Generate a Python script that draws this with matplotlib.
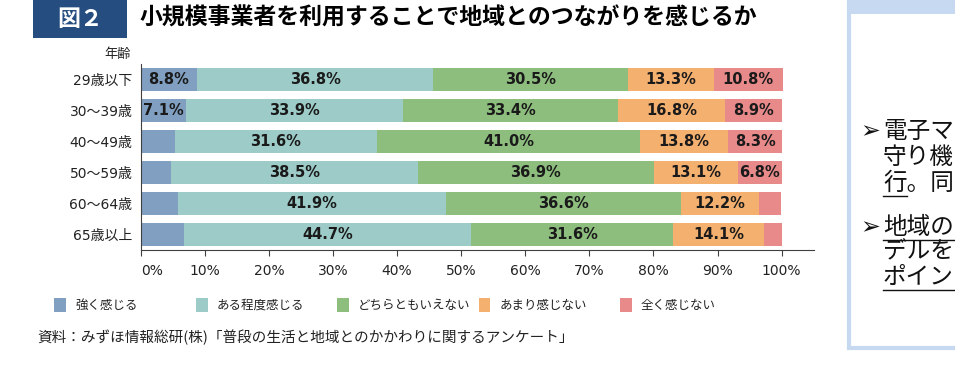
import numpy as np
import matplotlib.pyplot as plt
from matplotlib.patches import Rectangle
from matplotlib.lines import Line2D

plt.rcParams['font.family'] = ['DejaVu Sans', 'Noto Sans CJK JP']

# data
ages = ["29歳以下", "30～39歳", "40～49歳", "50～59歳", "60～64歳", "65歳以上"]
categories = ["強く感じる", "ある程度感じる", "どちらともいえない", "あまり感じない", "全く感じない"]
strong = [8.8, 7.1, 5.3, 4.7, 5.8, 6.8]
somewhat = [36.8, 33.9, 31.6, 38.5, 41.9, 44.7]
neutral = [30.5, 33.4, 41.0, 36.9, 36.6, 31.6]
not_much = [13.3, 16.8, 13.8, 13.1, 12.2, 14.1]
not_at_all = [10.8, 8.9, 8.3, 6.8, 3.4, 2.8]
# the source only prints labels on some of the small segments
strong_labeled = [True, True, False, False, False, False]
not_at_all_labeled = [True, True, True, True, False, False]
ticks = [0, 10, 20, 30, 40, 50, 60, 70, 80, 90, 100]
colors = ["#809FC1", "#9DCBC8", "#8DBE7E", "#F4B06F", "#E8898A"]

W, H = 955, 374


def px(x, y):
    return x / W, 1 - y / H


fig = plt.figure(figsize=(W / 100, H / 100), dpi=100)

# title block
fig.patches.append(Rectangle(px(33, 38), 94 / W, 38 / H, transform=fig.transFigure,
                             facecolor="#264D80", edgecolor="none"))
fig.text(*px(80, 19), "図２", color="white", fontsize=16.5, fontweight="bold",
         family=['Noto Sans CJK JP'], ha="center", va="center")
fig.text(*px(140, 18), "小規模事業者を利用することで地域とのつながりを感じるか",
         fontsize=16.5, fontweight="bold", family=['Noto Sans CJK JP'], ha="left", va="center")

# chart
ax = fig.add_axes([140.7 / W, 1 - 250 / H, 673 / W, 186 / H])
series = [strong, somewhat, neutral, not_much, not_at_all]
labeled = [strong_labeled, [True] * 6, [True] * 6, [True] * 6, not_at_all_labeled]
y = np.arange(len(ages))
left = np.zeros(len(ages))
for vals, col, show in zip(series, colors, labeled):
    vals = np.array(vals)
    ax.barh(y, vals, left=left, height=0.77, color=col, edgecolor="none")
    for yi, (l, v) in enumerate(zip(left, vals)):
        if show[yi]:
            ax.text(l + v / 2, yi, f"{v:.1f}%", ha="center", va="center",
                    fontsize=10.5, fontweight="bold", color="#1a1a1a")
    left += vals

ax.set_xlim(0, 105)
ax.set_ylim(5.5, -0.5)
ax.set_yticks(y)
ax.set_yticklabels(ages, fontsize=10, color="#222222")
ax.set_xticks(ticks)
ax.set_xticklabels([f"{t}%" for t in ticks], fontsize=10, color="#222222")
ax.get_xticklabels()[0].set_horizontalalignment("left")
ax.tick_params(axis="y", length=0, pad=6)
ax.tick_params(axis="x", length=4, direction="out", color="#404040", pad=6)
for s in ["top", "right"]:
    ax.spines[s].set_visible(False)
ax.spines["left"].set_color("#404040")
ax.spines["bottom"].set_color("#404040")
ax.text(-1.5, -0.8, "年齢", ha="right", va="center", fontsize=9.5, color="#222222")

# legend
for i, (cat, col) in enumerate(zip(categories, colors)):
    x0 = 54 + i * 141.5
    fig.patches.append(Rectangle(px(x0, 312), 12 / W, 14 / H, transform=fig.transFigure,
                                 facecolor=col, edgecolor="none"))
    fig.text(*px(x0 + 21, 305), cat, fontsize=9, ha="left", va="center", color="#222222",
             family=['Noto Sans CJK JP'])

fig.text(*px(37, 337), "資料：みずほ情報総研(株)「普段の生活と地域とのかかわりに関するアンケート」",
         fontsize=10.5, ha="left", va="center", color="#222222", family=['Noto Sans CJK JP'])

# clipped side panel
fig.patches.append(Rectangle(px(849, 348), 130 / W, 348 / H, transform=fig.transFigure,
                             facecolor="white", edgecolor="#C6D9F0", linewidth=3))
fig.patches.append(Rectangle(px(849, 14), 130 / W, 14 / H, transform=fig.transFigure,
                             facecolor="#C6D9F0", edgecolor="none"))
side_lines = [("電子マ", 131, True, False), ("守り機", 157, False, False),
              ("行。同", 183, False, True), ("地域の", 227, True, True),
              ("デルを", 252, False, False), ("ポイン", 277, False, True)]
for txt, yy, arrow, under in side_lines:
    if arrow:
        fig.text(*px(860, yy), "➢", fontsize=17, ha="left", va="center", color="#111111",
                 family=['DejaVu Sans'])
    fig.text(*px(883, yy), txt, fontsize=17, ha="left", va="center", color="#111111",
             family=['Noto Sans CJK JP'])
    if under:
        x_end = 907 if txt.startswith("行") else 960
        fig.lines.append(Line2D([883 / W, x_end / W], [1 - (yy + 13) / H] * 2,
                                transform=fig.transFigure, color="#111111", linewidth=1))

fig.savefig("out.png", dpi=100)
